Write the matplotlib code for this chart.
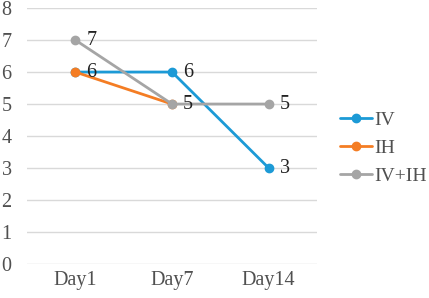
import matplotlib
matplotlib.use("Agg")
import matplotlib.pyplot as plt

categories = ["Day1", "Day7", "Day14"]
series_names = ["IV", "IH", "IV+IH"]
iv = [6, 6, 3]
ih = [6, 5, None]
iv_ih = [7, 5, 5]
yticks = [0, 1, 2, 3, 4, 5, 6, 7, 8]
colors = ["#1C9AD6", "#F47D24", "#A5A5A5"]

plt.rcParams["font.family"] = ["Liberation Serif", "DejaVu Serif"]
text_color = "#505050"
fs = 14.5

fig = plt.figure(figsize=(4.29, 2.98), dpi=100)
ax = fig.add_axes([0.063, 0.114, 0.676, 0.859])

x = list(range(len(categories)))
all_series = [iv, ih, iv_ih]
for name, vals, c in zip(series_names, all_series, colors):
    xs = [xi for xi, v in zip(x, vals) if v is not None]
    ys = [v for v in vals if v is not None]
    ax.plot(xs, ys, color=c, lw=2.0, marker="o", ms=6, label=name,
            solid_capstyle="round", zorder=3)

# data labels to the right of points (coinciding points labelled once)
shown = set()
for vals in all_series:
    for xi, v in zip(x, vals):
        if v is None or (xi, v) in shown:
            continue
        shown.add((xi, v))
        ax.annotate(str(v), (xi, v), xytext=(8, 0), textcoords="offset points",
                    ha="left", va="center", fontsize=fs, color="#222222", zorder=4)

ax.set_xlim(-0.5, 2.5)
ax.set_ylim(0, 8)
ax.set_yticks(yticks)
ax.set_xticks(x)
ax.set_xticklabels(categories)
ax.grid(axis="y", color="#D9D9D9", lw=1.0)
ax.set_axisbelow(True)
for sp in ax.spines.values():
    sp.set_visible(False)
ax.tick_params(length=0, labelsize=fs, colors=text_color)
ax.tick_params(axis="x", pad=5)
ax.tick_params(axis="y", pad=11)

leg = ax.legend(loc="center left", bbox_to_anchor=(1.078, 0.453), frameon=False,
                fontsize=14, handlelength=1.65, labelspacing=0.55, handletextpad=0.12,
                borderaxespad=0, borderpad=0)
for t in leg.get_texts():
    t.set_color(text_color)

fig.savefig("out.png", dpi=100)
